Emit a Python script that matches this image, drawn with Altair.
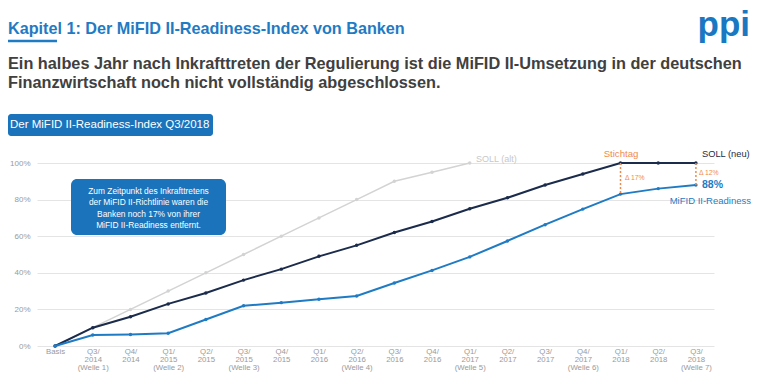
import altair as alt
import pandas as pd

categories = ["Basis", "Q3/|2014|(Welle 1)", "Q4/|2014", "Q1/|2015|(Welle 2)", "Q2/|2015",
              "Q3/|2015|(Welle 3)", "Q4/|2015", "Q1/|2016", "Q2/|2016|(Welle 4)", "Q3/|2016",
              "Q4/|2016", "Q1/|2017|(Welle 5)", "Q2/|2017", "Q3/|2017", "Q4/|2017|(Welle 6)",
              "Q1/|2018", "Q2/|2018", "Q3/|2018|(Welle 7)"]
soll_alt = [0, 10, 20, 30, 40, 50, 60, 70, 80, 90, 95, 100]
soll_neu = [0, 10, 16, 23, 29, 36, 42, 49, 55, 62, 68, 75, 81, 88, 94, 100, 100, 100]
mifid = [0, 6, 6.3, 7, 14.5, 22, 23.7, 25.5, 27.3, 34.4, 41.3, 48.7, 57.4, 66.3, 74.8, 83, 86, 88]
y_ticks = [0, 20, 40, 60, 80, 100]

delta_cats = ["Q1/|2018", "Q3/|2018|(Welle 7)"]
delta_top = [100, 100]
delta_bottom = [83, 88]

FONT = "Liberation Sans, Arial, sans-serif"
BLUE = "#1f7bc3"
NAVY = "#1b2b4b"
GREY = "#d3d3d3"
ORANGE = "#ef8a4c"

def series_df(vals):
    return pd.DataFrame({"cat": categories[:len(vals)], "v": vals})

xscale = alt.Scale(type="point", padding=0.48, domain=categories)
yscale = alt.Scale(domain=[0, 100])
xaxis = alt.Axis(labelExpr="split(datum.label, '|')", labelAngle=0, labelFontSize=7.8,
                 labelLineHeight=8.2, labelColor="#9a9a9a", ticks=False, domain=False,
                 labelPadding=1, title=None, labelOverlap=False, labelFont=FONT, grid=False)
yaxis = alt.Axis(values=y_ticks, labelExpr="datum.value + '%'", title=None, ticks=False,
                 domain=False, labelFontSize=8, labelColor="#9a9a9a", labelPadding=7,
                 labelOverlap=False, gridColor="#e4e4e4", gridWidth=1, labelFont=FONT)

xenc = alt.X("cat:N", sort=categories, scale=xscale, axis=xaxis)
yenc = alt.Y("v:Q", scale=yscale, axis=yaxis)

def line_layer(vals, color, width):
    return alt.Chart(series_df(vals)).mark_line(
        color=color, strokeWidth=width,
        point=alt.OverlayMarkDef(color=color, size=12, filled=True)
    ).encode(x=xenc, y=yenc)

layers = [
    line_layer(soll_alt, GREY, 1.5),
    line_layer(soll_neu, NAVY, 2),
    line_layer(mifid, BLUE, 2),
]

ddf = pd.DataFrame({"cat": delta_cats, "top": delta_top, "bottom": delta_bottom})
layers.append(alt.Chart(ddf).mark_rule(color=ORANGE, strokeDash=[2, 2], strokeWidth=1.5).encode(
    x=xenc, y=alt.Y("top:Q", scale=yscale, axis=yaxis), y2="bottom:Q"))

one = pd.DataFrame({"d": [0]})

def txt(text, x, y, size, color, weight="normal", align="left", baseline="middle", **kw):
    return alt.Chart(one).mark_text(text=text, fontSize=size, color=color, fontWeight=weight,
                                    align=align, baseline=baseline, font=FONT, **kw).encode(
        x=alt.value(x), y=alt.value(y))

def box(x1, x2, y1, y2, color, r):
    return alt.Chart(one).mark_rect(color=color, cornerRadius=r).encode(
        x=alt.value(x1), x2=alt.value(x2), y=alt.value(y1), y2=alt.value(y2))

# header
layers += [
    txt("Kapitel 1: Der MiFID II-Readiness-Index von Banken", -29, -129, 16.2, BLUE, "bold",
        baseline="alphabetic"),
    alt.Chart(one).mark_rule(color=BLUE, strokeWidth=2.5).encode(
        x=alt.value(-29), x2=alt.value(20), y=alt.value(-122)),
    txt("Ein halbes Jahr nach Inkrafttreten der Regulierung ist die MiFID II-Umsetzung in der deutschen",
        -29, -94, 16.3, "#404040", "bold", baseline="alphabetic"),
    txt("Finanzwirtschaft noch nicht vollständig abgeschlossen.", -29, -75, 16.3, "#404040", "bold",
        baseline="alphabetic"),
    box(-29, 176, -49, -27, "#1a73bb", 3),
    txt("Der MiFID II-Readiness-Index Q3/2018", -27, -38, 11.5, "white"),
    txt("ppi", 713, -127, 35, "#1a78c2", "bold", align="right", baseline="alphabetic"),
    box(34, 189, 16, 72, "#1a73bb", 6),
    txt("Zum Zeitpunkt des Inkrafttretens\nder MiFID II-Richtlinie waren die\nBanken noch 17% von ihrer\nMiFID II-Readiness entfernt.",
        111.5, 27.7, 8.4, "white", align="center", lineBreak="\n", lineHeight=11.6),
    txt("SOLL (alt)", 439, -4, 9, "#c8c8c8"),
    txt("Stichtag", 584, -9, 9.6, ORANGE, align="center"),
    txt("SOLL (neu)", 665, -9, 9.3, "#1e2a44"),
    txt("88%", 665, 22, 10.5, BLUE, "bold"),
    txt("MiFID II-Readiness", 714, 38, 9.5, BLUE, align="right"),
    txt("Δ 17%", 588, 15, 6.8, ORANGE),
    txt("Δ 12%", 662, 10, 6.8, ORANGE),
]

chart = alt.layer(*layers).properties(
    width=677, height=183,
    padding={"left": 29, "top": 155, "right": 38, "bottom": 26},
    autosize=alt.AutoSizeParams(type="none"),
    background="white",
).configure_view(stroke=None)

chart.save("out.html", embed_options={"renderer": "svg", "actions": False})
